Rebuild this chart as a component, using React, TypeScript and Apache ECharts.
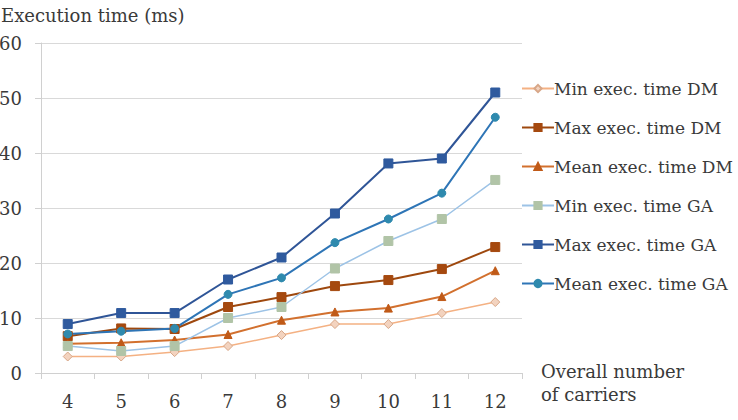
import React, { useEffect, useRef } from "react";
import * as echarts from "echarts";

const categories = ["4", "5", "6", "7", "8", "9", "10", "11", "12"];
const minDM = [3, 3, 3.8, 4.9, 6.9, 8.9, 8.9, 10.9, 12.9];
const maxDM = [6.7, 8.1, 8, 12, 13.8, 15.8, 16.9, 18.9, 22.9];
const meanDM = [5.3, 5.5, 6, 7, 9.6, 11.1, 11.8, 13.9, 18.6];
const minGA = [4.9, 4, 4.9, 10, 12, 19, 24, 28, 35.1];
const maxGA = [8.9, 10.9, 10.9, 17, 21, 29, 38.1, 39, 51];
const meanGA = [7.1, 7.6, 8.1, 14.3, 17.3, 23.7, 28, 32.7, 46.5];
const yTicks = [0, 10, 20, 30, 40, 50, 60];

const FONT = "DejaVu Serif";
const TEXT = "#3a3a3a";

export default function App() {
  const ref = useRef<HTMLDivElement>(null);
  useEffect(() => {
    if (!ref.current) return;
    const chart = echarts.init(ref.current, undefined, { renderer: "svg" });
    const mk = (
      name: string,
      data: number[],
      line: string,
      fill: string,
      symbol: string,
      size: number,
      width: number,
      border?: string
    ) => ({
      name,
      type: "line",
      data,
      symbol,
      symbolSize: size,
      showAllSymbol: true,
      lineStyle: { color: line, width },
      itemStyle: { color: fill, borderColor: border || fill, borderWidth: 1, opacity: 1 },
      emphasis: { disabled: true },
      z: 3,
    });
    chart.setOption({
      animation: false,
      backgroundColor: "#ffffff",
      textStyle: { fontFamily: FONT },
      grid: { left: 41, right: 216, top: 43, bottom: 47, outerBoundsMode: "none", containLabel: false },
      xAxis: {
        type: "category",
        data: categories,
        boundaryGap: true,
        axisLine: { lineStyle: { color: "#d0d0d0", width: 1 } },
        axisTick: { show: true, length: 6, lineStyle: { color: "#d0d0d0" } },
        axisLabel: { color: TEXT, fontSize: 18, fontFamily: FONT, margin: 19 },
      },
      yAxis: {
        type: "value",
        min: yTicks[0],
        max: yTicks[yTicks.length - 1],
        interval: 10,
        axisLine: { show: true, lineStyle: { color: "#d0d0d0", width: 1 } },
        axisTick: { show: true, length: 6, lineStyle: { color: "#d0d0d0" } },
        splitLine: { lineStyle: { color: "#d9d9d9", width: 1 } },
        axisLabel: { color: TEXT, fontSize: 18, fontFamily: FONT, margin: 19 },
      },
      legend: {
        orient: "vertical",
        left: 516,
        top: 75,
        itemGap: 22,
        itemWidth: 32,
        itemHeight: 9,
        textStyle: { color: TEXT, fontSize: 17, fontFamily: FONT, padding: [0, 0, 0, -5] },
        data: [
          "Min exec. time DM",
          "Max exec. time DM",
          "Mean exec. time DM",
          "Min exec. time GA",
          "Max exec. time GA",
          "Mean exec. time GA",
        ],
      },
      graphic: [
        {
          type: "text",
          left: 1,
          top: 6,
          style: { text: "Execution time (ms)", fill: TEXT, font: `18px '${FONT}'` },
        },
        {
          type: "text",
          left: 541,
          top: 360,
          style: {
            text: "Overall number\nof carriers",
            fill: TEXT,
            font: `18px '${FONT}'`,
            lineHeight: 23,
          },
        },
      ],
      series: [
        mk("Min exec. time DM", minDM, "#F4B183", "#F3D3BF", "diamond", 9, 1.5, "#D8A788"),
        mk("Max exec. time DM", maxDM, "#9E480E", "#A5490F", "rect", 9, 2),
        mk("Mean exec. time DM", meanDM, "#D2702E", "#C05A18", "triangle", 8, 2),
        mk("Min exec. time GA", minGA, "#9DC3E6", "#B1C4A7", "rect", 9, 1.5),
        mk("Max exec. time GA", maxGA, "#2F5597", "#2F5A9E", "rect", 9, 2),
        mk("Mean exec. time GA", meanGA, "#2E75B6", "#2F8AAE", "circle", 8, 2),
      ],
    });
    return () => chart.dispose();
  }, []);
  return (
    <div
      ref={ref}
      style={{ position: "absolute", left: 0, top: 0, width: 738, height: 420 }}
    />
  );
}
